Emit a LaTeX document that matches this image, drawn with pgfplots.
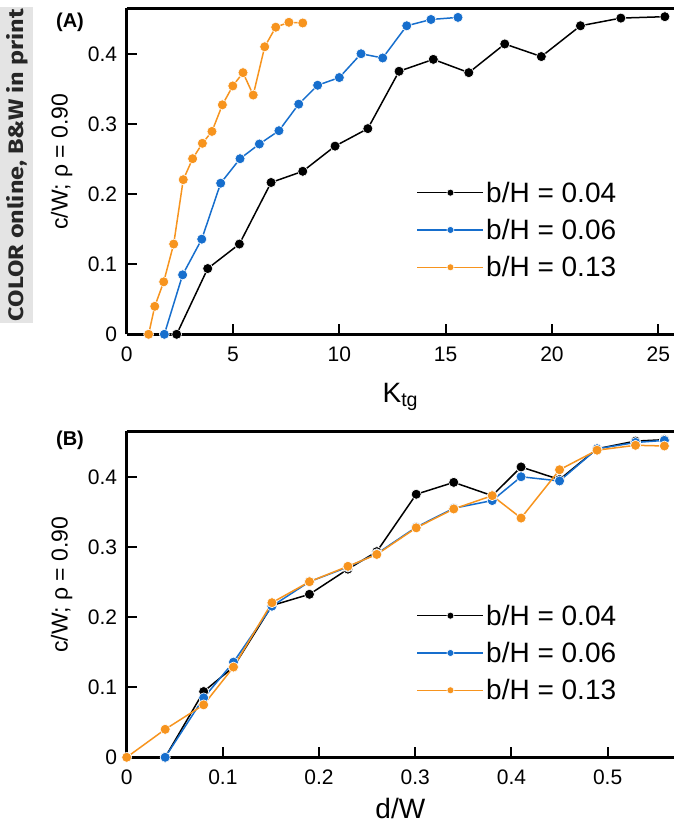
\documentclass[border=0pt]{standalone}
\usepackage{fontspec}
\setmainfont{Liberation Sans}
\newfontfamily\boxfont{Fira Sans}
\usepackage{pgfplots}
\pgfplotsset{compat=1.18}
\definecolor{cblue}{RGB}{22,110,205}
\definecolor{corange}{RGB}{247,148,30}
\definecolor{boxgray}{RGB}{228,228,228}

\pgfplotsset{
  myaxis/.style={
    scale only axis, width=547.3pt, height=326pt,
    axis x line=box, axis y line=left,
    axis line style={-, line width=2.5pt},
    xtick pos=left, ytick pos=left, tick align=inside,
    major tick length=10pt,
    major tick style={line width=2pt, black},
    ymin=0, ymax=0.466, ytick={0,0.1,0.2,0.3,0.4},
    tick label style={font=\fontsize{21}{21}\selectfont},
    /pgf/number format/assume math mode=true,
    yticklabel style={xshift=-6pt},
    xticklabel style={yshift=-9pt},
    ylabel={c/W; ρ = 0.90},
    ylabel style={font=\fontsize{23}{23}\selectfont, at={(axis description cs:-0.119,0.53)}, anchor=center},
    xlabel style={font=\fontsize{28}{28}\selectfont, anchor=base},
    legend style={at={(axis description cs:0.524,0.32)}, anchor=west, draw=none, fill=none,
      font=\fontsize{28}{28}\selectfont, row sep=11.5pt},
    legend cell align=left,
    legend image code/.code={\draw[mark repeat=2,mark phase=2,#1, mark size=3.5pt] plot coordinates {(0pt,0pt) (33pt,0pt) (66pt,0pt)};},
  },
  sblack/.style={black, line width=1.5pt, mark=*, mark size=5pt, mark options={solid, fill=black, draw=white, line width=0.6pt}},
  sblue/.style={cblue, line width=1.5pt, mark=*, mark size=5pt, mark options={solid, fill=cblue, draw=white, line width=0.6pt}},
  sorange/.style={corange, line width=1.5pt, mark=*, mark size=5pt, mark options={solid, fill=corange, draw=white, line width=0.6pt}},
}

\begin{document}
\begin{tikzpicture}[x=1pt,y=1pt]
\useasboundingbox (0,0) rectangle (674,827);
\fill[boxgray] (0,504) rectangle (33,820);
\node[rotate=90, text=black!85, inner sep=0pt] at (17.5,662) {\resizebox{312pt}{17pt}{\boxfont\bfseries COLOR online, B\&W in print}};
\node[font=\fontsize{20}{20}\selectfont\bfseries, inner sep=0pt] at (70,804.5) {(A)};
\node[font=\fontsize{20}{20}\selectfont\bfseries, inner sep=0pt] at (70,386.5) {(B)};

\begin{axis}[myaxis, at={(126.7pt,492.7pt)}, anchor=south west,
  xmin=0, xmax=25.74, xtick={0,5,10,15,20,25},
  xlabel style={at={(axis description cs:0.5,-0.2077)}},
  xlabel={K\textsubscript{tg}}]
\addplot[sblack] coordinates {(2.35,0) (3.81,0.094) (5.30,0.129) (6.79,0.217) (8.28,0.233) (9.80,0.269) (11.34,0.294) (12.81,0.376) (14.42,0.393) (16.09,0.374) (17.78,0.415) (19.50,0.397) (21.34,0.441) (23.24,0.452) (25.31,0.454)};
\addlegendentry{b/H = 0.04}
\addplot[sblue] coordinates {(1.77,0) (2.63,0.085) (3.53,0.136) (4.42,0.216) (5.33,0.251) (6.24,0.272) (7.16,0.291) (8.09,0.329) (8.98,0.356) (10.0,0.367) (11.02,0.401) (12.04,0.395) (13.17,0.441) (14.31,0.450) (15.58,0.453)};
\addlegendentry{b/H = 0.06}
\addplot[sorange] coordinates {(1.03,0) (1.32,0.040) (1.74,0.075) (2.21,0.129) (2.66,0.221) (3.10,0.251) (3.56,0.273) (4.01,0.290) (4.50,0.328) (4.99,0.355) (5.47,0.374) (5.95,0.342) (6.49,0.411) (7.01,0.439) (7.63,0.446) (8.28,0.445)};
\addlegendentry{b/H = 0.13}
\end{axis}

\begin{axis}[myaxis, at={(126.7pt,69.7pt)}, anchor=south west,
  xmin=0, xmax=0.569, xtick={0,0.1,0.2,0.3,0.4,0.5},
  xlabel style={at={(axis description cs:0.5,-0.189)}},
  xlabel={d/W}]
\addplot[sblack] coordinates {(0.040,0) (0.080,0.094) (0.111,0.129) (0.151,0.217) (0.190,0.233) (0.230,0.269) (0.260,0.294) (0.301,0.376) (0.340,0.393) (0.380,0.374) (0.410,0.415) (0.450,0.397) (0.489,0.441) (0.529,0.452) (0.559,0.454)};
\addlegendentry{b/H = 0.04}
\addplot[sblue] coordinates {(0.040,0) (0.080,0.085) (0.111,0.136) (0.151,0.216) (0.190,0.251) (0.230,0.272) (0.260,0.291) (0.301,0.329) (0.340,0.356) (0.380,0.367) (0.410,0.401) (0.450,0.395) (0.489,0.441) (0.529,0.450) (0.559,0.453)};
\addlegendentry{b/H = 0.06}
\addplot[sorange] coordinates {(0,0) (0.040,0.040) (0.080,0.075) (0.111,0.129) (0.151,0.221) (0.190,0.251) (0.230,0.273) (0.260,0.290) (0.301,0.328) (0.340,0.355) (0.380,0.374) (0.410,0.342) (0.450,0.411) (0.489,0.439) (0.529,0.446) (0.559,0.445)};
\addlegendentry{b/H = 0.13}
\end{axis}
\end{tikzpicture}
\end{document}
